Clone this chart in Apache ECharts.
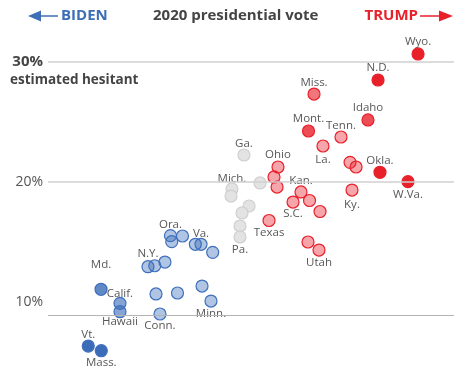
<!DOCTYPE html>
<html><head><meta charset="utf-8">
<script src="https://cdn.jsdelivr.net/npm/echarts@6/dist/echarts.min.js"></script>
<style>html,body{margin:0;padding:0;background:#fff}#c{width:454px;height:370px}</style>
</head><body><div id="c"></div>
<script>
// ---- data: x = Trump 2020 vote share (%), y = estimated vaccine-hesitant (%) ----
const yTickLabels = [10, 20, 30];

const bidenNames = ['Md.','Calif.','Hawaii','Vt.','Mass.','Ora.','','','','Va.','','N.Y.','','','','','','Minn.','Conn.'];
const bidenX = [32.27,34.51,34.51,30.76,32.30,40.48,40.63,41.90,43.42,44.09,45.47,37.82,38.62,39.83,38.77,41.31,44.21,45.27,39.24];
const bidenY = [11.06,9.89,9.19,6.33,5.94,15.53,15.03,15.50,14.81,14.81,14.14,12.94,13.02,13.33,10.67,10.75,11.33,10.08,9.00];
const bidenShade = [2,1,1,3,3,0,0,0,0,0,0,0,0,0,0,0,0,0,0];

const swingNames = ['Ga.','','Mich.','','','','','Pa.'];
const swingX = [49.17,51.07,47.75,47.64,49.77,48.94,48.70,48.70];
const swingY = [22.25,19.92,19.42,18.83,18.00,17.42,16.33,15.42];

const trumpNames = ['Wyo.','N.D.','Miss.','Idaho','Mont.','Tenn.','La.','','','Okla.','W.Va.','Ohio','','','Ky.','Kan.','S.C.','','','Texas','','Utah'];
const trumpX = [69.75,65.02,57.45,63.83,56.80,60.64,58.51,61.71,62.42,65.25,68.56,53.19,52.72,53.08,61.94,55.91,54.97,56.92,58.16,52.13,56.74,58.04];
const trumpY = [30.67,28.50,27.33,25.17,24.25,23.75,23.00,21.64,21.25,20.81,20.03,21.25,20.42,19.58,19.33,19.17,18.33,18.46,17.54,16.79,15.00,14.33];
const trumpShade = [3,3,1,2,2,0,0,0,0,3,3,0,0,0,0,0,0,0,0,0,0,0];

// ---- label placement (style) ----
const labelPlace = {
  'Wyo.':['top',0],'N.D.':['top',0],'Miss.':['top',-1],'Idaho':['top',0],'Mont.':['top',0],
  'Tenn.':['top',-1.5],'La.':['bottom',1],'Okla.':['top',-1,-3],'W.Va.':['bottom',0],'Ohio':['top',0,2],
  'Ky.':['bottom',2,2],'Kan.':['top',-1,3],'S.C.':['bottom',-1],'Texas':['bottom',-0.5],'Utah':['bottom',0,2],
  'Ga.':['top',-1],'Mich.':['top',-2],'Pa.':['bottom',0],
  'Md.':['top',12,-2],'Calif.':['top',-2.5,2],'Hawaii':['bottom',-2.5],'Vt.':['top',-1.5],'Mass.':['bottom',-0.5],
  'Ora.':['top',-1.5,2],'Va.':['top',-2],'N.Y.':['top',0,-1],'Minn.':['bottom',0.5],'Conn.':['bottom',-0.5,2]
};
const alphas = [0.4, 0.62, 0.8, 1];
function rgba(c, a){ return 'rgba(' + c.join(',') + ',' + a + ')'; }

function build(names, xs, ys, shadeFn, border){
  return names.map(function(n, i){
    const d = {name: n, value: [xs[i], ys[i]], itemStyle: {color: shadeFn(i), borderColor: border}};
    const p = labelPlace[n];
    if (n && p) d.label = {show: true, position: p[0], distance: p[1], offset: [p[2] || 0, 0], formatter: '{b}'};
    return d;
  });
}
const BLUE = [58,108,184], RED = [232,32,42];
const bidenData = build(bidenNames, bidenX, bidenY, i => rgba(BLUE, alphas[bidenShade[i]]), '#3f70bd');
const swingData = build(swingNames, swingX, swingY, i => '#e3e3e3', '#d0d0d0');
const trumpData = build(trumpNames, trumpX, trumpY, i => rgba(RED, alphas[trumpShade[i]]), '#e8202a');

const labelStyle = {show: false, color: '#585858', fontSize: 11.5, fontFamily: 'Open Sans'};
function scatter(data){
  return {type: 'scatter', data: data, symbolSize: 12, z: 3,
    itemStyle: {borderWidth: 1.2, opacity: 1}, label: labelStyle,
    emphasis: {disabled: true}, labelLayout: {hideOverlap: false}};
}

const chart = echarts.init(document.getElementById('c'), null, {renderer: 'canvas'});
chart.setOption({
  animation: false,
  backgroundColor: '#fff',
  textStyle: {fontFamily: 'Open Sans'},
  grid: {left: 48, right: 0, top: 26, bottom: 8},
  xAxis: {type: 'value', min: 26, max: 74, show: false},
  yAxis: {
    type: 'value', min: 5, max: 33, interval: 5,
    axisLine: {show: false}, axisTick: {show: false}, splitLine: {show: false},
    axisLabel: {
      margin: 5, color: '#555', fontSize: 14, fontFamily: 'Open Sans',
      formatter: function(v){
        if (v === 30) return '{b|30%}';
        return yTickLabels.indexOf(v) >= 0 ? v + '%' : '';
      },
      rich: {b: {fontWeight: 'bold', fontSize: 15, color: '#444', fontFamily: 'Open Sans'}}
    }
  },
  series: [
    {type: 'scatter', data: [], z: 1, silent: true,
     markLine: {silent: true, symbol: 'none', label: {show: false}, animation: false,
       data: [
         {yAxis: 30, lineStyle: {color: '#d0d0d0', width: 1.6, type: 'solid'}},
         {yAxis: 20, lineStyle: {color: '#d0d0d0', width: 1.6, type: 'solid'}},
         {yAxis: 8.92, lineStyle: {color: '#b4b4b4', width: 1, type: 'solid'}}
       ]}},
    scatter(swingData),
    scatter(bidenData),
    scatter(trumpData)
  ],
  graphic: [
    {type: 'polygon', shape: {points: [[28,16],[41,10.5],[41,21.5]]}, style: {fill: '#3d6fb6'}},
    {type: 'line', shape: {x1: 40, y1: 16, x2: 58, y2: 16}, style: {stroke: '#3d6fb6', lineWidth: 1.5}},
    {type: 'text', left: 61, top: 8, style: {text: 'BIDEN', fill: '#3d6fb6', font: 'bold 15px "Open Sans"'}},
    {type: 'text', left: 153, top: 8, style: {text: '2020 presidential vote', fill: '#444', font: 'bold 15px "Open Sans"'}},
    {type: 'text', right: 36, top: 8, style: {text: 'TRUMP', fill: '#e8202a', font: 'bold 15px "Open Sans"'}},
    {type: 'line', shape: {x1: 420, y1: 16, x2: 440, y2: 16}, style: {stroke: '#e8202a', lineWidth: 1.5}},
    {type: 'polygon', shape: {points: [[453,16],[439,10.5],[439,21.5]]}, style: {fill: '#e8202a'}},
    {type: 'text', left: 10, top: 73, style: {text: 'estimated hesitant', fill: '#444', font: 'bold 13.5px "Open Sans"'}}
  ]
});
</script></body></html>
